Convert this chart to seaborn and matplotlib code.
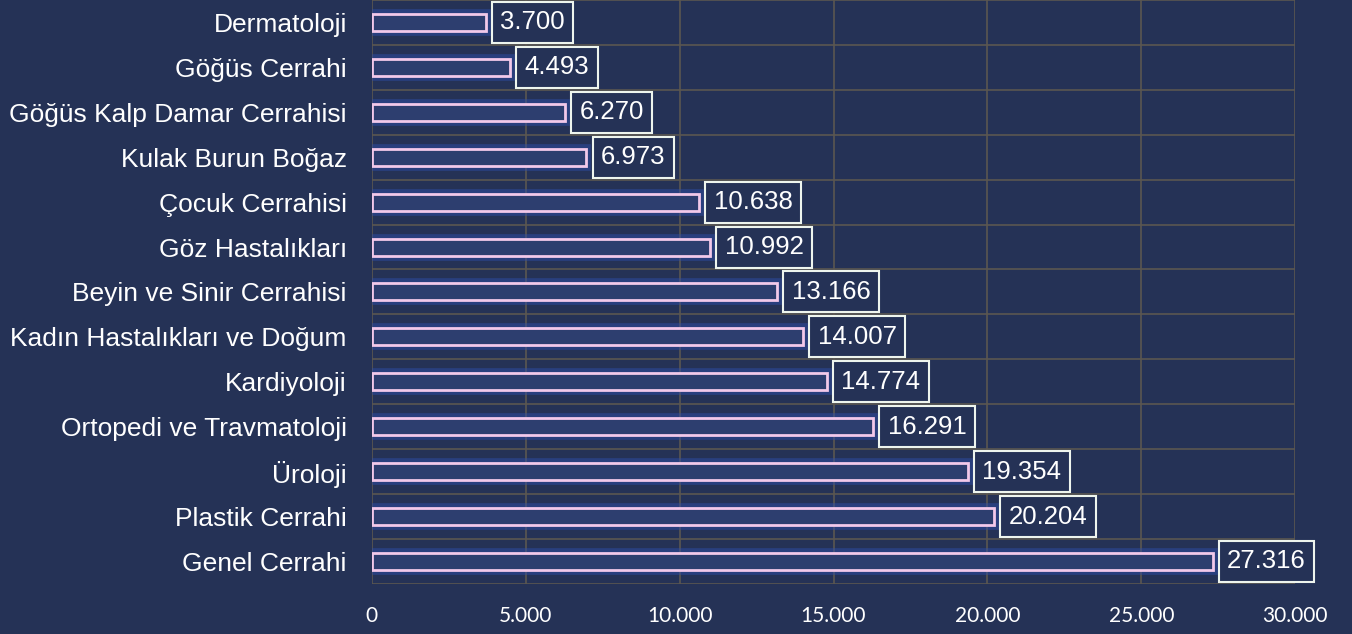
import matplotlib.pyplot as plt
import seaborn as sns
import pandas as pd

# Data
departments = ['Dermatoloji', 'Göğüs Cerrahi', 'Göğüs Kalp Damar Cerrahisi', 'Kulak Burun Boğaz',
               'Çocuk Cerrahisi', 'Göz Hastalıkları', 'Beyin ve Sinir Cerrahisi',
               'Kadın Hastalıkları ve Doğum', 'Kardiyoloji', 'Ortopedi ve Travmatoloji',
               'Üroloji', 'Plastik Cerrahi', 'Genel Cerrahi']
counts = [3700, 4493, 6270, 6973, 10638, 10992, 13166, 14007, 14774, 16291, 19354, 20204, 27316]
x_ticks = [0, 5000, 10000, 15000, 20000, 25000, 30000]

df = pd.DataFrame({'Bolum': departments, 'Sayi': counts})

bg = '#253256'
grid_col = '#5b5750'

sns.set_style('white')
plt.rcParams['font.family'] = ['Liberation Sans', 'DejaVu Sans']

fig = plt.figure(figsize=(13.52, 6.34), dpi=100, facecolor=bg)
ax = fig.add_axes([0.275, 0.079, 0.683, 0.921])
ax.set_facecolor(bg)

# soft blue glow behind the bars
sns.barplot(data=df, x='Sayi', y='Bolum', orient='h', ax=ax, width=0.38,
            color='#243a80', edgecolor='#2f4fb0', linewidth=7, alpha=0.45)
sns.barplot(data=df, x='Sayi', y='Bolum', orient='h', ax=ax, width=0.38,
            color='#22397a', edgecolor='#f2c9ea', linewidth=2)

ax.set_xlim(0, 30000)
ax.set_ylim(len(departments) - 0.5, -0.5)
ax.set_xticks(x_ticks)
ax.set_xticklabels([f'{v:,}'.replace(',', '.') for v in x_ticks],
                   fontsize=15, color='white', family=['Lato', 'DejaVu Sans'])
ax.tick_params(axis='y', labelsize=19, labelcolor='white', length=0, pad=18)
ax.tick_params(axis='x', length=0, pad=16)
ax.set_xlabel('')
ax.set_ylabel('')

ax.set_yticks([i + 0.5 for i in range(-1, len(departments))], minor=True)
ax.grid(True, axis='x', color=grid_col, linewidth=1.2)
ax.grid(True, axis='y', which='minor', color=grid_col, linewidth=1.2)
ax.set_axisbelow(True)
for s in ax.spines.values():
    s.set_visible(False)

for i, v in enumerate(counts):
    ax.annotate(f'{v:,}'.replace(',', '.'), xy=(v, i), xytext=(10.5, 0),
                textcoords='offset points', va='center', ha='left',
                fontsize=18.5, color='white',
                bbox=dict(boxstyle='square,pad=0.33', facecolor=bg,
                          edgecolor='#eef5ee', linewidth=1.5))

plt.savefig('out.png', dpi=100, facecolor=bg)
